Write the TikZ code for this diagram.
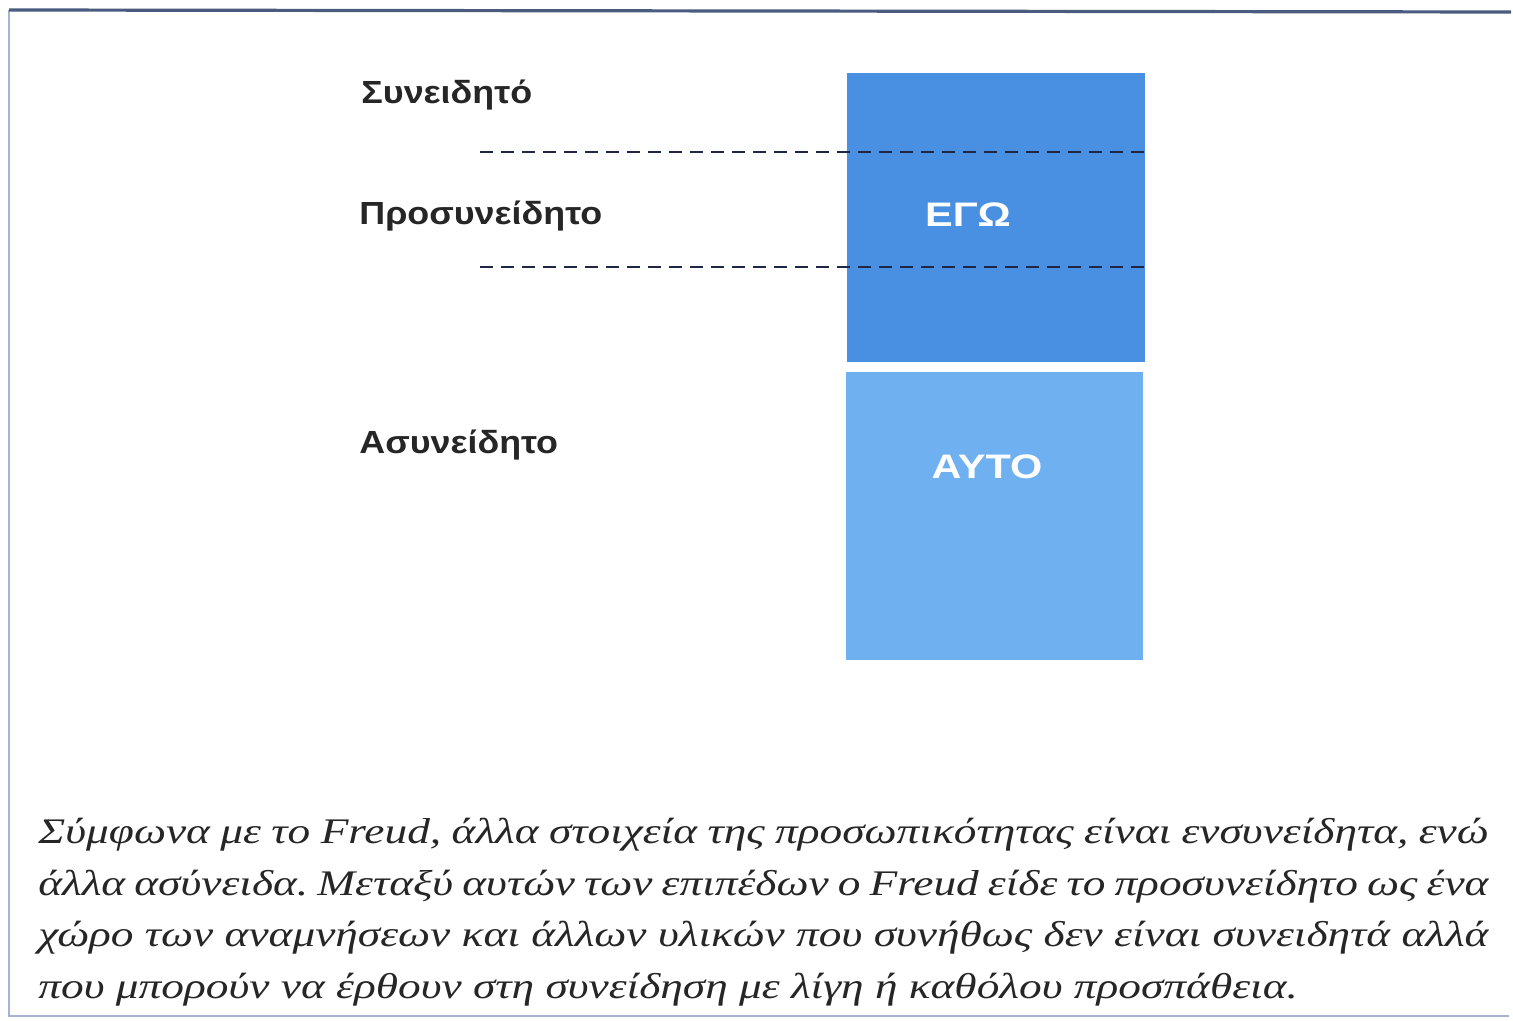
\documentclass[tikz,border=0pt]{standalone}
\usepackage{fontspec}
\setmainfont{Liberation Serif}
\newfontfamily\labfont[FakeStretch=1.12]{Liberation Sans}
\newfontfamily\partfont[FakeStretch=1.22]{Liberation Sans}
\newfontfamily\capfont[FakeStretch=1.26]{Liberation Serif}
\definecolor{egoblue}{RGB}{74,144,226}
\definecolor{idblue}{RGB}{110,176,240}
\definecolor{framecol}{RGB}{105,130,180}
\definecolor{dashcol}{RGB}{30,40,70}
\begin{document}
\begin{tikzpicture}[x=0.5pt,y=-0.5pt,
  lvl/.style={anchor=west,inner sep=0pt,font=\labfont\bfseries\fontsize{16}{18}\selectfont,text=black!85},
  part/.style={inner sep=0pt,font=\partfont\bfseries\fontsize{17}{18}\selectfont,text=white},
  divline/.style={dash pattern=on 6.5pt off 4pt,line width=1pt,draw=dashcol},
  boxshape/.style={draw=none,inner sep=0pt,anchor=north west}]
\useasboundingbox (0,0) rectangle (1513,1021);
\fill[white] (0,0) rectangle (1513,1021);
% frame
\draw[framecol!60,line width=1.2pt] (9,10) -- (9,1016) -- (1509,1016);
\draw[framecol!70!black,line width=1.6pt] (9,10) -- (1511,12);
% boxes
\node[boxshape,fill=egoblue,minimum width=149pt,minimum height=144.5pt] (ego) at (847,73) {};
\node[boxshape,fill=idblue,minimum width=148.5pt,minimum height=144pt] (id) at (846,372) {};
\node[part] (egot) at (968,215) {ΕΓΩ};
\node[part] (idt) at (987,467) {ΑΥΤΟ};
% level labels
\node[lvl] (con) at (361,95) {Συνειδητό};
\node[lvl] (pre) at (359,216) {Προσυνείδητο};
\node[lvl] (unc) at (359,445) {Ασυνείδητο};
% dashed borders
\coordinate (d1) at (480,152);
\coordinate (d2) at (480,267);
\draw[divline] (d1) -- (d1 -| ego.east);
\draw[divline] (d2) -- (d2 -| ego.east);
% caption
\node[anchor=north west,inner sep=0pt,text width=725pt,align=justify,
  font=\capfont\itshape\frenchspacing\fontsize{18}{25.8}\selectfont,text=black!85] (cap) at (38,818)
 {Σύμφωνα με το Freud, άλλα στοιχεία της προσωπικότητας είναι ενσυνείδητα, ενώ\linebreak
 άλλα ασύνειδα. Μεταξύ αυτών των επιπέδων ο Freud είδε το προσυνείδητο ως ένα\linebreak
 χώρο των αναμνήσεων και άλλων υλικών που συνήθως δεν είναι συνειδητά αλλά\linebreak
 που μπορούν να έρθουν στη συνείδηση με λίγη ή καθόλου προσπάθεια.};
\end{tikzpicture}
\end{document}
